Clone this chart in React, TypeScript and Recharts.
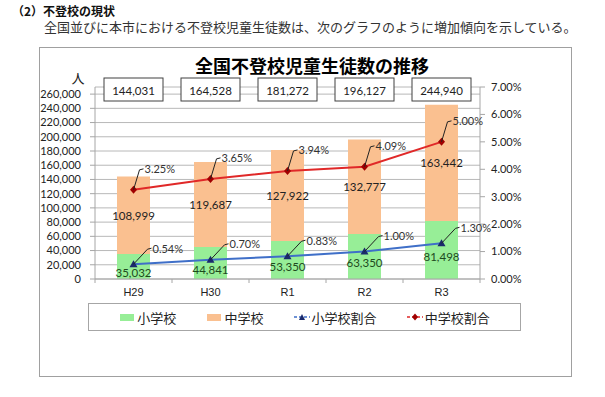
import React from "react";
import {
  ComposedChart,
  Bar,
  Line,
  XAxis,
  YAxis,
  CartesianGrid,
  Legend,
  LabelList,
} from "recharts";

const categories = ["H29", "H30", "R1", "R2", "R3"];
const elementary = [35032, 44841, 53350, 63350, 81498];
const juniorHigh = [108999, 119687, 127922, 132777, 163442];
const totals = [144031, 164528, 181272, 196127, 244940];
const elementaryRate = [0.54, 0.7, 0.83, 1.0, 1.3];
const juniorHighRate = [3.25, 3.65, 3.94, 4.09, 5.0];
const countTicks = [
  0, 20000, 40000, 60000, 80000, 100000, 120000, 140000, 160000, 180000,
  200000, 220000, 240000, 260000,
];
const rateTicks = [0, 1, 2, 3, 4, 5, 6, 7];

const data = categories.map((name, i) => ({
  name,
  elementary: elementary[i],
  juniorHigh: juniorHigh[i],
  total: totals[i],
  elementaryRate: elementaryRate[i],
  juniorHighRate: juniorHighRate[i],
}));

const GREEN = "#97ee97";
const ORANGE = "#fac090";
const BLUE = "#3f6fc8";
const RED = "#e02828";
const AXIS = "#a6a6a6";
const GRID = "#b8b8b8";
const NUM_FONT = "Lato, 'Liberation Sans', sans-serif";
const JP_FONT = "'Noto Sans CJK JP', sans-serif";

const CHART_W = 533;
const CHART_H = 330;
const MARGIN = { top: 40, right: 32, bottom: 46, left: 0 };
const LEFT_AXIS_W = 56;
const RIGHT_AXIS_W = 60;
const BAND = (CHART_W - MARGIN.left - MARGIN.right - LEFT_AXIS_W - RIGHT_AXIS_W) / categories.length;

const fmt = (v: number) => v.toLocaleString("en-US");

const GreenLabel = (props: any) => {
  const { x, y, width, height, value } = props;
  return (
    <text
      x={x + width / 2}
      y={y + height / 2 + 6}
      textAnchor="middle"
      dominantBaseline="central"
      fontSize={11.5}
      fontFamily={NUM_FONT}
      fill="#1d4a1d"
    >
      {fmt(value)}
    </text>
  );
};

const OrangeLabel = (props: any) => {
  const { x, y, width, height, value } = props;
  return (
    <text
      x={x + width / 2}
      y={y + height / 2}
      textAnchor="middle"
      dominantBaseline="central"
      fontSize={11.5}
      fontFamily={NUM_FONT}
      fill="#222"
    >
      {fmt(value)}
    </text>
  );
};

// total boxes sit over each column, just below the top of the plot
const TotalBox = (props: any) => {
  const { x, width, value } = props;
  const cx = x + width / 2;
  const top = MARGIN.top - 9;
  return (
    <g>
      <rect x={cx - 29.5} y={top} width={59} height={23} fill="#fff" stroke="#404040" strokeWidth={1} />
      <text
        x={cx}
        y={top + 12}
        textAnchor="middle"
        dominantBaseline="central"
        fontSize={11.5}
        fontFamily={NUM_FONT}
        fill="#222"
      >
        {fmt(value)}
      </text>
    </g>
  );
};

const pctLabel = (dx: number, dy: number) => (props: any) => {
  const { x, y, value } = props;
  return (
    <g>
      <path
        d={`M${x},${y} L${x + dx - 5},${y + dy + 1} L${x + dx - 1},${y + dy}`}
        fill="none"
        stroke="#222"
        strokeWidth={1}
      />
      <text
        x={x + dx}
        y={y + dy}
        dominantBaseline="central"
        fontSize={11}
        fontFamily={NUM_FONT}
        fill="#333"
      >
        {value.toFixed(2)}%
      </text>
    </g>
  );
};

const TriangleDot = (props: any) => {
  const { cx, cy } = props;
  return <path d={`M${cx},${cy - 4} L${cx + 4},${cy + 3} L${cx - 4},${cy + 3} Z`} fill="#1a2a6c" />;
};

const DiamondDot = (props: any) => {
  const { cx, cy } = props;
  return <path d={`M${cx},${cy - 4} L${cx + 3.5},${cy} L${cx},${cy + 4} L${cx - 3.5},${cy} Z`} fill="#a00000" />;
};

const XTick = (props: any) => {
  const { x, y, payload, index } = props;
  return (
    <g>
      {index === 0 && <line x1={x - BAND / 2} y1={y} x2={x - BAND / 2} y2={y + 4} stroke={AXIS} />}
      <line x1={x + BAND / 2} y1={y} x2={x + BAND / 2} y2={y + 4} stroke={AXIS} />
      <text
        x={x}
        y={y + 13}
        textAnchor="middle"
        dominantBaseline="central"
        fontSize={11}
        fontFamily="'Liberation Sans', Arial, sans-serif"
        fill="#222"
      >
        {payload.value}
      </text>
    </g>
  );
};

const PersonLabel = (props: any) => {
  const { viewBox } = props;
  return (
    <text
      x={viewBox.x + viewBox.width - 17}
      y={viewBox.y - 10}
      textAnchor="middle"
      dominantBaseline="central"
      fontSize={13}
      fontFamily={JP_FONT}
      fill="#222"
    >
      人
    </text>
  );
};

const legendItems = [
  { name: "小学校", kind: "bar", color: GREEN },
  { name: "中学校", kind: "bar", color: ORANGE },
  { name: "小学校割合", kind: "line", color: BLUE, marker: "tri" },
  { name: "中学校割合", kind: "line", color: RED, marker: "dia" },
];

const renderLegend = () => (
  <div
    style={{
      boxSizing: "border-box",
      width: 433,
      height: 28,
      border: "1px solid #a6a6a6",
      display: "flex",
      justifyContent: "space-evenly",
      alignItems: "center",
      fontFamily: JP_FONT,
      fontSize: 13,
      color: "#222",
    }}
  >
    {legendItems.map((item) => (
      <div key={item.name} style={{ display: "flex", alignItems: "center" }}>
        <svg width={16} height={10} style={{ marginRight: 2 }}>
          {item.kind === "bar" ? (
            <rect x={1} y={2} width={14} height={7} fill={item.color} />
          ) : (
            <g>
              <line x1={0} y1={5} x2={16} y2={5} stroke={item.color} strokeWidth={1.5} strokeDasharray="3 2" />
              {item.marker === "tri" ? (
                <path d="M8,2 L11,8 L5,8 Z" fill="#1a2a6c" />
              ) : (
                <path d="M8,1.5 L11,5 L8,8.5 L5,5 Z" fill="#a00000" />
              )}
            </g>
          )}
        </svg>
        <span>{item.name}</span>
      </div>
    ))}
  </div>
);

export default function App() {
  return (
    <div style={{ position: "absolute", left: 0, top: 0, width: 605, height: 397, background: "#fff" }}>
      <div
        style={{
          position: "absolute",
          left: 12,
          top: 3,
          fontFamily: JP_FONT,
          fontSize: 12,
          fontWeight: "bold",
          lineHeight: "16px",
          color: "#111",
          whiteSpace: "nowrap",
        }}
      >
        （2）不登校の現状
      </div>
      <div
        style={{
          position: "absolute",
          left: 44,
          top: 19,
          fontFamily: JP_FONT,
          fontSize: 13,
          lineHeight: "16px",
          color: "#333",
          whiteSpace: "nowrap",
        }}
      >
        全国並びに本市における不登校児童生徒数は、次のグラフのように増加傾向を示している。
      </div>
      <div
        style={{
          position: "absolute",
          left: 39,
          top: 47,
          width: CHART_W,
          height: CHART_H,
          boxSizing: "border-box",
          border: "1px solid #a0a0a0",
        }}
      />
      <div
        style={{
          position: "absolute",
          left: 195,
          top: 54,
          fontFamily: JP_FONT,
          fontSize: 18,
          fontWeight: "bold",
          lineHeight: "22px",
          color: "#000",
          whiteSpace: "nowrap",
        }}
      >
        全国不登校児童生徒数の推移
      </div>
      <div style={{ position: "absolute", left: 39, top: 47 }}>
        <ComposedChart width={CHART_W} height={CHART_H} data={data} margin={MARGIN}>
          <CartesianGrid yAxisId="count" vertical={false} stroke={GRID} />
          <XAxis
            dataKey="name"
            height={24}
            axisLine={{ stroke: AXIS }}
            tickLine={false}
            tickSize={0}
            tickMargin={0}
            tick={<XTick />}
            interval={0}
          />
          <YAxis
            yAxisId="count"
            width={LEFT_AXIS_W}
            domain={[0, 270000]}
            ticks={countTicks}
            interval={0}
            tickFormatter={fmt}
            axisLine={{ stroke: AXIS }}
            tickLine={{ stroke: AXIS }}
            tickSize={5}
            tickMargin={9}
            tick={{ fill: "#222", fontSize: 11, fontFamily: NUM_FONT }}
            label={<PersonLabel />}
          />
          <YAxis
            yAxisId="rate"
            orientation="right"
            width={RIGHT_AXIS_W}
            domain={[0, 7]}
            ticks={rateTicks}
            interval={0}
            tickFormatter={(v: number) => `${v.toFixed(2)}%`}
            axisLine={{ stroke: AXIS }}
            tickLine={{ stroke: AXIS }}
            tickSize={5}
            tickMargin={6}
            tick={{ fill: "#222", fontSize: 11, fontFamily: NUM_FONT, textAnchor: "start" }}
          />
          <Legend
            verticalAlign="bottom"
            content={renderLegend}
            wrapperStyle={{ left: 49, top: 256, width: 433, height: 28 }}
          />
          <Bar
            yAxisId="count"
            dataKey="elementary"
            name="小学校"
            stackId="a"
            fill={GREEN}
            barSize={33}
            isAnimationActive={false}
          >
            <LabelList dataKey="elementary" content={<GreenLabel />} />
          </Bar>
          <Bar
            yAxisId="count"
            dataKey="juniorHigh"
            name="中学校"
            stackId="a"
            fill={ORANGE}
            barSize={33}
            isAnimationActive={false}
          >
            <LabelList dataKey="juniorHigh" content={<OrangeLabel />} />
            <LabelList dataKey="total" content={<TotalBox />} />
          </Bar>
          <Line
            yAxisId="rate"
            type="linear"
            dataKey="elementaryRate"
            name="小学校割合"
            stroke={BLUE}
            strokeWidth={2}
            dot={<TriangleDot />}
            label={pctLabel(19, -16)}
            isAnimationActive={false}
          />
          <Line
            yAxisId="rate"
            type="linear"
            dataKey="juniorHighRate"
            name="中学校割合"
            stroke={RED}
            strokeWidth={2}
            dot={<DiamondDot />}
            label={pctLabel(11, -21)}
            isAnimationActive={false}
          />
        </ComposedChart>
      </div>
    </div>
  );
}
